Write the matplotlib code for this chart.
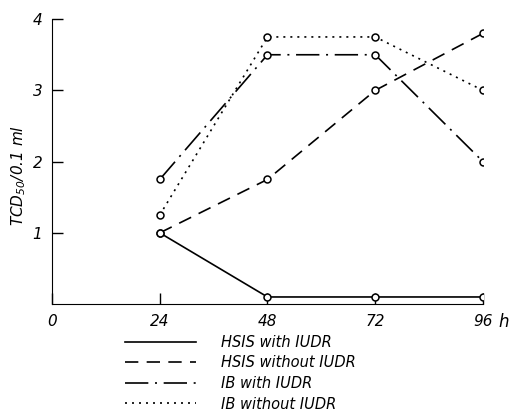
import numpy as np
import matplotlib
matplotlib.use("Agg")
from matplotlib import pyplot as plt
from matplotlib.lines import Line2D

# Data
hours = [24, 48, 72, 96]
hsis_with = [1.0, 0.1, 0.1, 0.1]
hsis_without = [1.0, 1.75, 3.0, 3.8]
ib_with = [1.75, 3.5, 3.5, 2.0]
ib_without = [1.25, 3.75, 3.75, 3.0]

labels = ["HSIS with IUDR", "HSIS without IUDR", "IB with IUDR", "IB without IUDR"]
styles = ["-", (0, (8, 5)), (0, (14, 4, 1.2, 4)), (0, (1.2, 3))]

plt.rcParams['font.family'] = ['DejaVu Sans']
plt.rcParams['font.style'] = 'italic'

fig = plt.figure(figsize=(5.1, 4.16), dpi=100)
ax = fig.add_axes([0.102, 0.269, 0.845, 0.685])

series = [hsis_with, hsis_without, ib_with, ib_without]
for vals, ls in zip(series, styles):
	ax.plot(hours, vals, color="black", linestyle=ls, linewidth=1.2,
		marker="o", markersize=5, markerfacecolor="white",
		markeredgecolor="black", markeredgewidth=1.1, zorder=3)

ax.set_xlim(0, 96)
ax.set_ylim(0, 4)
ax.spines["top"].set_visible(False)
ax.spines["right"].set_visible(False)
ax.set_xticks([0, 24, 48, 72, 96])
ax.set_xticklabels(["0", "24", "48", "72", "96"], fontsize=11)
ax.set_yticks([1, 2, 3, 4])
ax.set_yticklabels(["1", "2", "3", "4"], fontsize=11)
ax.tick_params(direction="in", length=8, width=1, pad=7)
ax.text(1.047, -0.063, "h", transform=ax.transAxes, fontsize=12,
	ha="center", va="center")
ax.set_ylabel("TCD$_{50}$/0.1 ml", fontsize=11)
ax.yaxis.set_label_coords(-0.055, 0.45)

handles = [Line2D([], [], color="black", linestyle=ls, linewidth=1.2) for ls in styles]
fig.legend(handles, labels, loc="upper left", bbox_to_anchor=(0.245, 0.195),
	frameon=False, fontsize=10.5, handlelength=4.9, handletextpad=1.7,
	labelspacing=0.38, borderaxespad=0, borderpad=0)

fig.savefig("out.png", dpi=100)
